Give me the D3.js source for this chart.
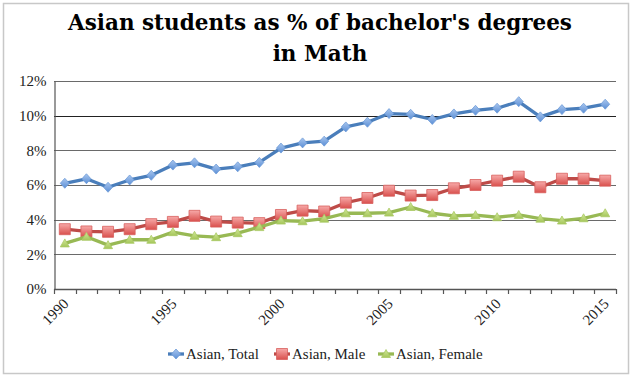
<!DOCTYPE html>
<html><head><meta charset="utf-8">
<script src="https://cdn.jsdelivr.net/npm/d3@7"></script>
<style>html,body{margin:0;padding:0;background:#fff;}svg{display:block;}</style>
</head><body>
<svg id="chart" width="640" height="383"></svg>
<script>
const years = d3.range(1990, 2016);
const tickLabels = [1990, 1995, 2000, 2005, 2010, 2015];
const asianTotal = [6.10,6.36,5.87,6.29,6.56,7.15,7.28,6.92,7.05,7.30,8.13,8.43,8.53,9.35,9.62,10.12,10.08,9.78,10.10,10.31,10.43,10.81,9.93,10.35,10.43,10.66];
const asianMale = [3.45,3.32,3.30,3.45,3.74,3.87,4.22,3.89,3.83,3.80,4.27,4.52,4.47,4.98,5.25,5.67,5.39,5.42,5.81,6.00,6.25,6.48,5.87,6.36,6.36,6.25];
const asianFemale = [2.63,3.01,2.53,2.84,2.84,3.28,3.07,2.99,3.22,3.57,3.95,3.91,4.06,4.37,4.37,4.41,4.73,4.37,4.22,4.26,4.14,4.27,4.06,3.95,4.08,4.37];
const seriesNames = ["Asian, Total", "Asian, Male", "Asian, Female"];
const yTicks = [0, 2, 4, 6, 8, 10, 12];

const svg = d3.select("#chart");
const serif = "'DejaVu Serif', serif";
const lserif = "'Liberation Serif', serif";

const defs = svg.append("defs");
const gr = defs.append("linearGradient").attr("id","gRed").attr("x1",0).attr("y1",0).attr("x2",0).attr("y2",1);
gr.append("stop").attr("offset","0%").attr("stop-color","#F7A9A8");
gr.append("stop").attr("offset","100%").attr("stop-color","#D9504D");
const gb = defs.append("linearGradient").attr("id","gBlue").attr("x1",0).attr("y1",0).attr("x2",0).attr("y2",1);
gb.append("stop").attr("offset","0%").attr("stop-color","#A9C6EE");
gb.append("stop").attr("offset","100%").attr("stop-color","#5B8FD6");
const gg = defs.append("linearGradient").attr("id","gGreen").attr("x1",0).attr("y1",0).attr("x2",0).attr("y2",1);
gg.append("stop").attr("offset","0%").attr("stop-color","#D2E89A");
gg.append("stop").attr("offset","100%").attr("stop-color","#A5C65A");

// outer border
svg.append("rect").attr("x",3.5).attr("y",3.5).attr("width",625).attr("height",370)
  .attr("fill","#fff").attr("stroke","#C8C8C8").attr("stroke-width",1.5);

// title
const title = svg.append("text").attr("text-anchor","middle")
  .attr("font-family",serif).attr("font-weight","bold").attr("font-size",21.5).attr("fill","#000");
title.append("tspan").attr("x",320).attr("y",30).text("Asian students as % of bachelor's degrees");
title.append("tspan").attr("x",320).attr("y",61).text("in Math");

const x = d3.scaleBand().domain(years).range([54, 616]).padding(0);
const y = d3.scaleLinear().domain([0, 12]).range([289, 81]);
const cx = d => x(d) + x.bandwidth() / 2;

// gridlines
svg.append("g").selectAll("line").data(yTicks.filter(d => d > 0)).join("line")
  .attr("x1",54).attr("x2",616).attr("y1",d=>Math.round(y(d))+0.5).attr("y2",d=>Math.round(y(d))+0.5)
  .attr("stroke",d => d===10 ? "#222" : "#6a6a6a").attr("stroke-width",1.2);

// y axis
const yAxis = d3.axisLeft(y).tickValues(yTicks).tickSize(0).tickPadding(8).tickFormat(d => d + "%");
const gy = svg.append("g").attr("transform","translate(54.5,0)").call(yAxis);
gy.select(".domain").attr("stroke","#555").attr("stroke-width",1.2);
gy.selectAll("text").attr("font-family",lserif).attr("font-size",15).attr("fill","#222");

// x axis baseline + ticks between categories
const gx = svg.append("g");
gx.append("line").attr("x1",54).attr("x2",616).attr("y1",289.5).attr("y2",289.5).attr("stroke","#555").attr("stroke-width",1.3);
const boundaries = years.map(d => x(d)).concat([x.range()[1]]);
gx.selectAll("line.tk").data(boundaries).join("line").attr("class","tk")
  .attr("x1",d=>Math.round(d)+0.5).attr("x2",d=>Math.round(d)+0.5).attr("y1",289).attr("y2",294)
  .attr("stroke","#555").attr("stroke-width",1.2);
gx.selectAll("text").data(tickLabels).join("text")
  .attr("transform", d => `translate(${cx(d)+1},${301}) rotate(-45)`)
  .attr("text-anchor","end").attr("dy","0.35em")
  .attr("font-family",lserif).attr("font-size",15).attr("fill","#222").text(d => d);

// series
const series = [
  {name: seriesNames[0], values: asianTotal, line: "#4A7EBB", fill: "url(#gBlue)", marker: "diamond"},
  {name: seriesNames[1], values: asianMale, line: "#BE4B48", fill: "url(#gRed)", marker: "square"},
  {name: seriesNames[2], values: asianFemale, line: "#98B954", fill: "url(#gGreen)", marker: "triangle"}
];
const markerPath = {
  diamond: "M0,-5L4.5,0L0,5L-4.5,0Z",
  square: "M-5.5,-5.5H5.5V5.5H-5.5Z",
  triangle: "M0,-4.5L4.5,3.5H-4.5Z"
};
const markerStroke = {diamond: "#6E9CD8", square: "#D8605D", triangle: "#A9C964"};

const lineGen = d3.line().x((d,i) => cx(years[i])).y(d => y(d));
series.forEach(s => {
  const g = svg.append("g");
  g.append("path").datum(s.values).attr("d", lineGen).attr("fill","none")
    .attr("stroke", s.line).attr("stroke-width", 3.3).attr("stroke-linejoin","round");
  g.selectAll("path.m").data(s.values).join("path").attr("class","m")
    .attr("d", markerPath[s.marker])
    .attr("transform",(d,i) => `translate(${cx(years[i])},${y(d)})`)
    .attr("fill", s.fill).attr("stroke", markerStroke[s.marker]).attr("stroke-width",0.8);
});

// legend
const legendItems = [
  {s: series[0], x0: 168, tx: 186},
  {s: series[1], x0: 274, tx: 292},
  {s: series[2], x0: 378, tx: 396}
];
const lg = svg.append("g");
legendItems.forEach(it => {
  lg.append("line").attr("x1",it.x0).attr("x2",it.x0+16).attr("y1",354).attr("y2",354)
    .attr("stroke",it.s.line).attr("stroke-width",3.3);
  lg.append("path").attr("d", markerPath[it.s.marker]).attr("transform",`translate(${it.x0+8},354)`)
    .attr("fill", it.s.fill).attr("stroke", markerStroke[it.s.marker]).attr("stroke-width",0.8);
  lg.append("text").attr("x",it.tx).attr("y",354).attr("dy","0.33em")
    .attr("font-family",lserif).attr("font-size",15).attr("fill","#222").text(it.s.name);
});
</script>
</body></html>
